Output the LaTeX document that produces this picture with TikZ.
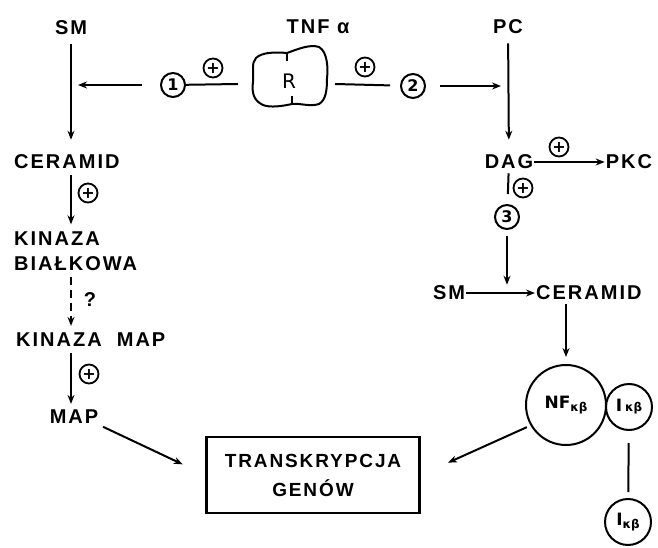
\documentclass[tikz,border=0pt]{standalone}
\usepackage{fontspec}
\setmainfont{Liberation Sans}[LetterSpace=10]
\newfontfamily\plainfont{DejaVu Sans}
\usetikzlibrary{arrows.meta,positioning}
\tikzset{
  lbl/.style={
    font=\bfseries\fontsize{20}{25}\selectfont,
    inner sep=1pt
  },
  arr/.style={
    -{Stealth[length=9pt,width=7pt]},
    line width=2pt
  },
  plain/.style={
    line width=2pt
  },
  plus/.style={
    circle,
    draw,
    line width=1.8pt,
    inner sep=0pt,
    minimum size=19pt,
    font=\plainfont\bfseries\fontsize{16}{16}\selectfont
  },
  numc/.style={
    circle,
    draw,
    line width=2pt,
    inner sep=0pt,
    minimum size=24pt,
    font=\plainfont\bfseries\fontsize{16}{16}\selectfont
  },
  blob/.style={
    circle,
    draw,
    line width=2pt,
    inner sep=0pt,
    font=\plainfont\bfseries\fontsize{17}{17}\selectfont
  },
  genbox/.style={
    draw,
    line width=2.4pt,
    minimum width=213pt,
    minimum height=76pt,
    align=center,
    font=\bfseries\fontsize{19}{29}\selectfont
  }
}
\newcommand{\kb}[1]{\raisebox{#1}{\fontsize{12}{12}\selectfont κβ}}

\begin{document}
\begin{tikzpicture}[x=1pt,y=-1pt]
\useasboundingbox (0,0) rectangle (658,548);
% top row
\node[lbl] (sm1) at (71,28) {SM};
\node[lbl] (tnf) at (318,27) {TNF α};
\node[lbl] (pc) at (508,27) {PC};
% receptor
\node[font=\plainfont\fontsize{20}{20}\selectfont] (rec) at (289,81) {R};
\draw[plain] (256,58) .. controls (262,52) and (276,52) .. (287,53)
  .. controls (298,49) and (310,44) .. (319,47)
  .. controls (328,52) and (328,70) .. (327,78)
  .. controls (327,90) and (326,100) .. (319,104)
  .. controls (310,107) and (300,103) .. (292,104)
  .. controls (283,106) and (270,108) .. (263,105)
  .. controls (252,100) and (252,90) .. (253,82)
  .. controls (254,72) and (251,63) .. (256,58) -- cycle;
\draw[plain] (287,53) -- (287,61);
\draw[plain] (292,104) -- (292,96);
\coordinate (recw) at (238,84);
\coordinate (rece) at (335,84);
% pathway 1
\node[numc] (c1) at (173,85) {1};
\node[plus] (p1) at (213,68) {+};
\draw[plain] (c1) -- (recw);
\draw[arr, shorten <=18pt, shorten >=7pt] (c1) -- (c1 -| sm1);
% pathway 2
\node[numc] (c2) at (413,86) {2};
\node[plus] (p2) at (365,67) {+};
\draw[plain, shorten >=10pt] (rece) -- (c2);
\draw[arr, shorten <=14pt, shorten >=7pt] (c2) -- (c2 -| pc);
% left column
\node[lbl, anchor=west] (cer1) at (13,162) {CERAMID};
\node[lbl, anchor=west, align=left] (kin) at (13,251) {KINAZA\\BIAŁKOWA};
\node[lbl, anchor=west] (kmap) at (15,340) {KINAZA\ \ MAP};
\node[lbl] (map) at (74,417) {MAP};
\node[plus] (pl1) at (88,193) {+};
\node[lbl] (q) at (90,300) {?};
\node[plus] (pl4) at (89,374) {+};
\draw[arr, shorten <=8pt, shorten >=14pt] (sm1) -- (sm1 |- cer1.north);
\draw[arr, shorten <=5pt, shorten >=6pt] (cer1.south -| sm1) -- (kin.north -| sm1);
\draw[arr, dash pattern=on 8pt off 5pt, shorten <=5pt, shorten >=6pt] (kin.south -| sm1) -- (kmap.north -| sm1);
\draw[arr, shorten <=5pt, shorten >=5pt] (kmap.south -| sm1) -- (map.north -| sm1);
% genes
\node[genbox] (gen) at (313,475) {TRANSKRYPCJA\\GENÓW};
\draw[arr, shorten <=4pt, shorten >=25pt] (map.south east) -- (gen.west);
% right column
\node[lbl] (dag) at (509,162) {DAG};
\node[lbl] (pkc) at (629,162) {PKC};
\node[plus] (pl2) at (559,147) {+};
\node[numc] (c3) at (507,217) {3};
\node[plus] (pl3) at (523,188) {+};
\draw[arr, shorten <=8pt, shorten >=14pt] (pc) -- (dag);
\draw[arr] (dag) -- (pkc);
\draw[plain, shorten <=3pt, shorten >=10pt] (dag) -- (c3);
\node[lbl] (sm2) at (449,293) {SM};
\node[lbl, anchor=west] (cer2) at (535,293) {CERAMID};
\draw[arr] (sm2) -- (cer2);
\draw[arr, shorten <=6pt] (c3) -- (c3 |- sm2.north);
% NF-kB complex
\node[blob, minimum size=80pt] (nf) at (566,405) {NF\kb{-3pt}};
\node[blob, minimum size=46pt] (ik1) at (629,407) {I\,\kb{0pt}};
\node[blob, minimum size=46pt] (ik2) at (628,522) {I\kb{-3pt}};
\draw[arr, shorten <=3pt, shorten >=7pt] (cer2.south -| nf) -- (nf);
\draw[plain, shorten <=12pt, shorten >=6pt] (ik1) -- (ik2);
\draw[arr, shorten <=4pt, shorten >=30pt] (nf.210) -- (gen.east);
\end{tikzpicture}
\end{document}
